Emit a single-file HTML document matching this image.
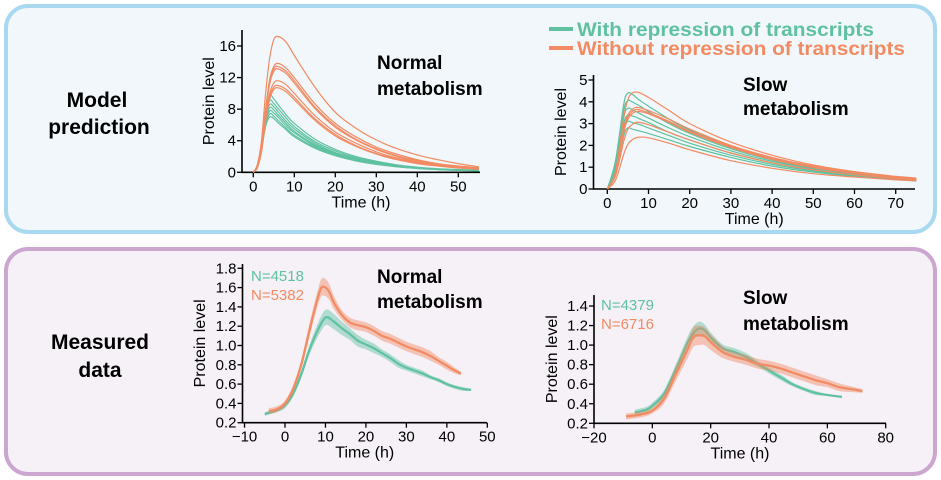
<!DOCTYPE html>
<html><head><meta charset="utf-8"><style>
html,body{margin:0;padding:0;background:#fff;}
svg{display:block;font-family:"Liberation Sans",Arial,sans-serif;}
</style></head><body>
<svg id="fig" width="941" height="480" viewBox="0 0 941 480">
<rect x="6" y="6" width="929" height="226" rx="22" fill="#f1f7fa" stroke="#a9d9f1" stroke-width="4"/>
<rect x="6" y="249" width="929" height="225" rx="22" fill="#f5f1f7" stroke="#cba6cf" stroke-width="4"/>
<g font-weight="bold" font-size="21" text-anchor="middle" fill="#000">
<text x="97" y="107"><tspan x="97">Model</tspan><tspan x="99" y="134">prediction</tspan></text>
<text x="100" y="349"><tspan x="100">Measured</tspan><tspan x="100" y="377">data</tspan></text>
</g>
<g>
<line x1="549" y1="29" x2="573" y2="29" stroke="#5fc1a0" stroke-width="4"/>
<text x="577" y="36" font-size="19" font-weight="bold" fill="#5fc1a0" textLength="297" lengthAdjust="spacingAndGlyphs">With repression of transcripts</text>
<line x1="549" y1="48" x2="573" y2="48" stroke="#f28a62" stroke-width="4"/>
<text x="577" y="55" font-size="19" font-weight="bold" fill="#f28a62" textLength="328" lengthAdjust="spacingAndGlyphs">Without repression of transcripts</text>
</g>
</svg>
<script>
const GREEN="#5fc1a0", ORANGE="#f28a62";
// Panel A: model, normal metabolism
const tA=[0,1,2,3,4,5,6,8,10,15,20,25,30,35,40,45,50,55];
const orangeA=[
[0,1,4,10,14.5,16.8,17.2,16.5,14.8,10.8,7.6,5.6,4.1,3.0,2.2,1.6,1.1,0.7],
[0,0.8,3.2,8,11.8,13.4,13.8,13.2,12,8.7,6.2,4.5,3.2,2.3,1.6,1.1,0.8,0.6],
[0,0.8,3.1,7.8,11.5,13.1,13.4,12.8,11.6,8.3,5.9,4.2,3.0,2.1,1.5,1.0,0.7,0.5],
[0,0.8,3.0,7.6,11.2,12.8,13.1,12.5,11.3,8.1,5.7,4.1,2.9,2.0,1.4,1.0,0.7,0.5],
[0,0.7,2.8,7,10,11.3,11.6,11.1,10,7.2,5.1,3.7,2.6,1.8,1.3,0.9,0.6,0.45],
[0,0.7,2.7,6.7,9.6,10.8,11.0,10.5,9.5,6.8,4.8,3.4,2.4,1.7,1.2,0.85,0.6,0.4],
[0,0.6,2.6,6.5,9.3,10.5,10.7,10.2,9.2,6.6,4.6,3.3,2.3,1.6,1.1,0.8,0.55,0.4]];
const greenA=[
[0,0.8,3.5,7.6,9.7,9.3,8.6,7.3,6.2,4.2,2.9,2.0,1.4,0.95,0.65,0.45,0.35,0.25],
[0,0.8,3.4,7.2,9.1,8.7,8.1,6.9,5.8,3.9,2.7,1.85,1.3,0.9,0.6,0.42,0.32,0.24],
[0,0.7,3.2,6.9,8.6,8.3,7.7,6.5,5.5,3.7,2.5,1.75,1.2,0.85,0.58,0.4,0.3,0.22],
[0,0.7,3.1,6.6,8.2,7.9,7.3,6.2,5.2,3.5,2.4,1.65,1.15,0.8,0.55,0.38,0.28,0.2],
[0,0.7,3.0,6.3,7.8,7.5,7.0,5.9,5.0,3.35,2.3,1.6,1.1,0.76,0.52,0.36,0.27,0.2],
[0,0.6,2.9,6.0,7.4,7.1,6.6,5.6,4.7,3.2,2.2,1.5,1.05,0.72,0.5,0.35,0.26,0.19],
[0,0.6,2.8,5.8,7.0,6.8,6.3,5.4,4.5,3.05,2.1,1.45,1.0,0.7,0.48,0.34,0.25,0.18]];
const xTicksA=[0,10,20,30,40,50], yTicksA=[0,4,8,12,16];
// Panel B: model, slow metabolism
const tB=[0,2,4,5,6,7,8,10,15,20,30,40,50,60,70,75];
const orangeB=[
[0,0.8,3.3,4.1,4.4,4.45,4.4,4.2,3.6,3.0,2.15,1.55,1.1,0.8,0.58,0.5],
[0,0.7,2.8,3.4,3.65,3.75,3.72,3.6,3.2,2.75,2.0,1.45,1.05,0.78,0.56,0.48],
[0,0.7,2.7,3.3,3.55,3.65,3.62,3.5,3.1,2.65,1.95,1.4,1.0,0.75,0.54,0.46],
[0,0.7,2.6,3.2,3.45,3.55,3.55,3.45,3.05,2.6,1.9,1.35,0.98,0.72,0.52,0.45],
[0,0.6,2.2,2.75,2.95,3.05,3.05,2.95,2.6,2.25,1.65,1.2,0.88,0.65,0.48,0.42],
[0,0.4,1.6,2.05,2.25,2.35,2.38,2.35,2.1,1.8,1.3,0.95,0.7,0.55,0.42,0.38]];
const greenB=[
[0,1.3,3.9,4.4,4.35,4.2,4.05,3.8,3.2,2.7,1.95,1.4,1.0,0.72,0.52,0.45],
[0,1.2,3.6,4.05,4.0,3.9,3.8,3.55,3.0,2.55,1.85,1.33,0.95,0.7,0.5,0.43],
[0,1.1,3.3,3.7,3.65,3.55,3.45,3.25,2.8,2.4,1.75,1.27,0.92,0.68,0.49,0.42],
[0,1.0,3.0,3.4,3.35,3.3,3.2,3.05,2.6,2.25,1.65,1.2,0.88,0.65,0.47,0.41],
[0,0.9,2.75,3.1,3.05,3.0,2.95,2.8,2.45,2.1,1.55,1.13,0.83,0.62,0.45,0.39],
[0,0.8,2.45,2.8,2.75,2.7,2.65,2.55,2.25,1.95,1.45,1.05,0.78,0.58,0.43,0.37]];
const xTicksB=[0,10,20,30,40,50,60,70], yTicksB=[0,1,2,3,4,5];
// Panel C: measured, normal metabolism
const tCg=[-5,-2,0,2,4,6,8,10,12,14,16,18,20,22,24,26,28,30,32,34,36,38,40,42,44,46];
const valCg=[0.29,0.33,0.38,0.5,0.7,0.95,1.15,1.29,1.25,1.18,1.12,1.05,1.01,0.97,0.92,0.87,0.81,0.77,0.74,0.71,0.67,0.64,0.6,0.57,0.55,0.54];
const errCg=[0.02,0.02,0.03,0.03,0.04,0.05,0.07,0.08,0.08,0.07,0.06,0.06,0.05,0.05,0.04,0.04,0.04,0.03,0.03,0.03,0.02,0.02,0.02,0.02,0.02,0.01];
const tCo=[-4,-2,0,2,4,6,8,9,10,11,12,14,16,18,20,22,24,26,28,30,32,34,36,38,40,42,43.5];
const valCo=[0.32,0.34,0.4,0.55,0.8,1.15,1.48,1.6,1.6,1.55,1.45,1.32,1.24,1.21,1.19,1.15,1.1,1.07,1.03,0.99,0.96,0.93,0.89,0.84,0.79,0.74,0.71];
const errCo=[0.03,0.03,0.03,0.04,0.05,0.07,0.08,0.09,0.09,0.08,0.07,0.05,0.05,0.05,0.05,0.05,0.05,0.05,0.05,0.05,0.05,0.05,0.05,0.04,0.04,0.03,0.02];
const xTicksC=[-10,0,10,20,30,40,50], yTicksC=[0.2,0.4,0.6,0.8,1.0,1.2,1.4,1.6,1.8];
// Panel D: measured, slow metabolism
const tDg=[-6,-2,0,4,8,12,14,16,18,20,24,28,32,36,40,44,48,52,56,60,65];
const valDg=[0.31,0.34,0.38,0.5,0.75,1.02,1.12,1.17,1.15,1.08,0.97,0.93,0.88,0.81,0.74,0.67,0.6,0.55,0.51,0.49,0.47];
const errDg=[0.03,0.03,0.03,0.04,0.05,0.06,0.07,0.07,0.06,0.05,0.04,0.04,0.04,0.03,0.03,0.03,0.02,0.02,0.02,0.01,0.01];
const tDo=[-9,-4,0,4,8,12,14,16,18,20,24,28,32,36,40,44,48,52,56,60,64,68,72];
const valDo=[0.27,0.29,0.33,0.45,0.7,0.95,1.08,1.1,1.09,1.03,0.93,0.88,0.85,0.81,0.79,0.76,0.72,0.68,0.64,0.61,0.57,0.55,0.53];
const errDo=[0.03,0.03,0.03,0.05,0.07,0.09,0.1,0.1,0.09,0.08,0.06,0.05,0.05,0.05,0.05,0.05,0.05,0.05,0.05,0.04,0.04,0.03,0.02];
const xTicksD=[-20,0,20,40,60,80], yTicksD=[0.2,0.4,0.6,0.8,1.0,1.2,1.4];

const NS="http://www.w3.org/2000/svg";
const fig=document.getElementById('fig');
function mk(tag,attrs,parent){const e=document.createElementNS(NS,tag);for(const k in attrs)e.setAttribute(k,attrs[k]);(parent||fig).appendChild(e);return e;}
function smooth(pts){let d="M"+pts[0][0].toFixed(1)+","+pts[0][1].toFixed(1);
 for(let i=0;i<pts.length-1;i++){const p0=pts[Math.max(0,i-1)],p1=pts[i],p2=pts[i+1],p3=pts[Math.min(pts.length-1,i+2)];
  const c1=[p1[0]+(p2[0]-p0[0])/6,p1[1]+(p2[1]-p0[1])/6],c2=[p2[0]-(p3[0]-p1[0])/6,p2[1]-(p3[1]-p1[1])/6];
  d+="C"+c1[0].toFixed(1)+","+c1[1].toFixed(1)+" "+c2[0].toFixed(1)+","+c2[1].toFixed(1)+" "+p2[0].toFixed(1)+","+p2[1].toFixed(1);}
 return d;}
function axes(g,cfg){
 const {x0,x1,xv0,xv1,y0,y1,yv0,yv1,axX,axXend,axYtop,xTicks,yTicks,dec,ylabX}=cfg;
 const sx=v=>x0+(v-xv0)/(xv1-xv0)*(x1-x0), sy=v=>y0+(v-yv0)/(yv1-yv0)*(y1-y0);
 const base=sy(yTicks[0]);
 const ax=mk('path',{d:`M${axX},${axYtop}V${base}H${axXend}`,fill:'none',stroke:'#000','stroke-width':1.6},g);
 
 
 xTicks.forEach(v=>{const x=sx(v);mk('line',{x1:x,x2:x,y1:base,y2:base+5,stroke:'#000','stroke-width':1.3},g);
  const t=mk('text',{x:x,y:base+19,'font-size':15,'text-anchor':'middle'},g);t.textContent=v<0?"\u2212"+(-v):v;
  
  });
 yTicks.forEach(v=>{const y=sy(v);mk('line',{x1:axX-5,x2:axX,y1:y,y2:y,stroke:'#000','stroke-width':1.3},g);
  const t=mk('text',{x:axX-6,y:y+5,'font-size':15,'text-anchor':'end'},g);t.textContent=v.toFixed(dec);
  
  });
 const xt=mk('text',{x:(axX+axXend)/2,y:base+35,'font-size':16,'text-anchor':'middle'},g);xt.textContent="Time (h)";
 
 
 const ym=(axYtop+base)/2;
 const yt=mk('text',{x:ylabX,y:ym,'font-size':16,'text-anchor':'middle',transform:`rotate(-90 ${ylabX} ${ym})`},g);yt.textContent="Protein level";
 
 
 return {sx,sy};
}
function title(g,x,y1,y2,a,b,name){const t=mk('text',{x:x,y:y1,'font-size':19,'font-weight':'bold'},g);t.textContent=a;
 
 
 const t2=mk('text',{x:x,y:y2,'font-size':19,'font-weight':'bold'},g);t2.textContent=b;
 
 }
function model(name,cfg,ts,greens,oranges){
 const g=mk('g',{});
 const {sx,sy}=axes(g,cfg);
 const draw=(arr,col,nm)=>arr.forEach(vals=>{const p=mk('path',{d:smooth(ts.map((t,i)=>[sx(t),sy(vals[i])])),fill:'none',stroke:col,'stroke-width':1.2},g);
  
  });
 draw(greens,GREEN,'curve-with-repression');draw(oranges,ORANGE,'curve-without-repression');
 return g;}
function measured(name,cfg,series){
 const g=mk('g',{});
 const {sx,sy}=axes(g,cfg);
 series.forEach(s=>{const up=s.t.map((t,i)=>[sx(t),sy(s.v[i]+s.e[i])]),lo=s.t.map((t,i)=>[sx(t),sy(s.v[i]-s.e[i])]).reverse();
  const band=mk('path',{d:smooth(up)+"L"+smooth(lo).slice(1)+"Z",fill:s.c,opacity:0.45},g);
  
  
  const ln=mk('path',{d:smooth(s.t.map((t,i)=>[sx(t),sy(s.v[i])])),fill:'none',stroke:s.c,'stroke-width':2.2},g);
  
  });
 return g;}

const gA=model('panel-model-normal',{x0:253.3,x1:458.3,xv0:0,xv1:50,y0:172.3,y1:46,yv0:0,yv1:16,axX:242,axXend:480,axYtop:30,xTicks:xTicksA,yTicks:yTicksA,dec:0,ylabX:214},tA,greenA,orangeA);
title(gA,377,69,95,"Normal","metabolism",'normal-model');
const gB=model('panel-model-slow',{x0:607.3,x1:895.7,xv0:0,xv1:70,y0:189,y1:80,yv0:0,yv1:5,axX:593.5,axXend:915,axYtop:75,xTicks:xTicksB,yTicks:yTicksB,dec:0,ylabX:566},tB,greenB,orangeB);
title(gB,743,91,115,"Slow","metabolism",'slow-model');
const gC=measured('panel-measured-normal',{x0:285,x1:487.3,xv0:0,xv1:50,y0:422.7,y1:268.3,yv0:0.2,yv1:1.8,axX:242.5,axXend:487,axYtop:264,xTicks:xTicksC,yTicks:yTicksC,dec:1,ylabX:205},
 [{t:tCg,v:valCg,e:errCg,c:GREEN,n:'with-repression'},{t:tCo,v:valCo,e:errCo,c:ORANGE,n:'without-repression'}]);
title(gC,377,283,308,"Normal","metabolism",'normal-measured');
const gD=measured('panel-measured-slow',{x0:594,x1:885.7,xv0:-20,xv1:80,y0:423.3,y1:306,yv0:0.2,yv1:1.4,axX:594,axXend:886,axYtop:295,xTicks:xTicksD,yTicks:yTicksD,dec:1,ylabX:557},
 [{t:tDg,v:valDg,e:errDg,c:GREEN,n:'with-repression'},{t:tDo,v:valDo,e:errDo,c:ORANGE,n:'without-repression'}]);
title(gD,743,304,330,"Slow","metabolism",'slow-measured');
[[gC,251,281,"N=4518",GREEN],[gC,251,300,"N=5382",ORANGE],[gD,601,310,"N=4379",GREEN],[gD,601,329,"N=6716",ORANGE]].forEach(a=>{
 const t=mk('text',{x:a[1],y:a[2],'font-size':15,fill:a[4]},a[0]);t.textContent=a[3];
 
 });
</script>
</body></html>
